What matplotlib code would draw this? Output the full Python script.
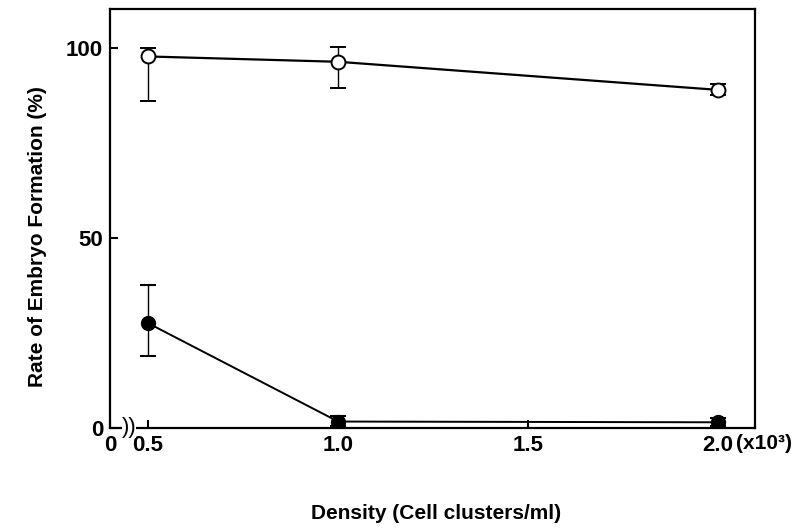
import numpy as np
import matplotlib
matplotlib.use('Agg')
import matplotlib.pyplot as plt
import matplotlib.transforms as mtransforms

plt.rcParams['font.family'] = ['Liberation Sans', 'DejaVu Sans']
plt.rcParams['font.weight'] = 'bold'

# DADOS
densidade = [0.5, 1.0, 2.0]

aberto = [97.8, 96.4, 89.0]
aberto_sup = [2.2, 4.0, 1.5]
aberto_inf = [11.7, 7.0, 1.4]

fechado = [27.6, 1.7, 1.5]
fechado_sup = [10.0, 1.5, 1.0]
fechado_inf = [8.6, 1.2, 1.0]

xticks = [0.4, 0.5, 1.0, 1.5, 2.0]
xticklabels = ['0', '0.5', '1.0', '1.5', '2.0']
yticks = [0, 50, 100]

fig = plt.figure(figsize=(7.99, 5.28), dpi=100)
ax = fig.add_axes([0.1377, 0.1894, 0.8073, 0.7936])

ax.errorbar(densidade, aberto, yerr=[aberto_inf, aberto_sup], color='black',
            marker='o', markersize=10, markerfacecolor='white',
            markeredgecolor='black', markeredgewidth=1.4, linewidth=1.6,
            elinewidth=1.0, capsize=5.5, capthick=1.5, zorder=3)

ax.errorbar(densidade, fechado, yerr=[fechado_inf, fechado_sup], color='black',
            marker='o', markersize=10, markerfacecolor='black',
            markeredgecolor='black', linewidth=1.4,
            elinewidth=1.0, capsize=5.5, capthick=1.5, zorder=3)

ax.set_xlim(0.4, 2.097)
ax.set_ylim(0, 110.3)

ax.set_xticks(xticks)
ax.set_xticklabels(xticklabels)
ax.set_yticks(yticks)
ax.tick_params(direction='in', length=6, width=1.5, labelsize=16, pad=5)

for s in ax.spines.values():
    s.set_linewidth(1.6)

# quebra do eixo x
ax.text(0.0295, 0.0, '))', transform=ax.transAxes, fontsize=16,
        fontweight='normal', ha='center', va='center', clip_on=False,
        bbox=dict(facecolor='white', edgecolor='none', pad=0.0))

trans = mtransforms.blended_transform_factory(ax.transData, ax.transAxes)
ax.text(2.048, -0.014, '(x10³)', transform=trans, fontsize=15,
        ha='left', va='top', clip_on=False)

ax.set_xlabel('Density (Cell clusters/ml)', fontsize=15, fontweight='bold',
              va='top')
ax.xaxis.set_label_coords(0.505, -0.182)
ax.set_ylabel('Rate of Embryo Formation (%)', fontsize=15, fontweight='bold',
              va='bottom')
ax.yaxis.set_label_coords(-0.098, 0.456)

plt.savefig('out.png', dpi=100)
